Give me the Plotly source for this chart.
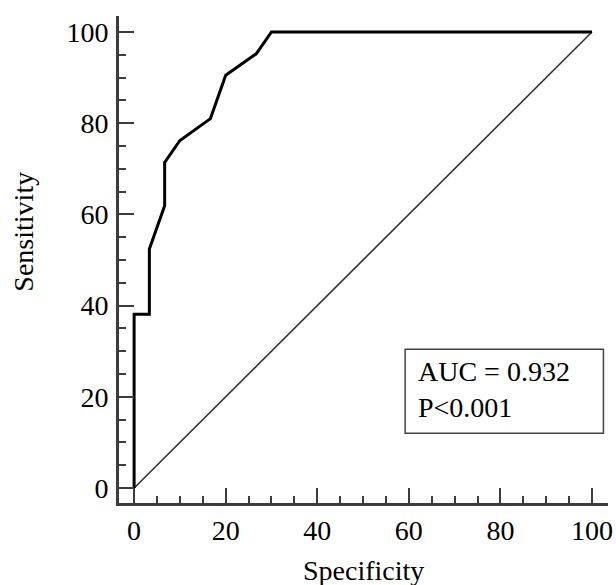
import plotly.graph_objects as go

# ROC curve points (100 - specificity on x as labelled "Specificity", sensitivity on y)
roc_x = [0, 0, 3.33, 3.33, 6.67, 6.67, 10.0, 16.67, 20.0, 26.67, 30.0, 100]
roc_y = [0, 38.1, 38.1, 52.4, 61.9, 71.4, 76.2, 81.0, 90.5, 95.2, 100, 100]
diag_x = [0, 100]
diag_y = [0, 100]
tick_vals = [0, 20, 40, 60, 80, 100]
tick_text = ["0", "20", "40", "60", "80", "100"]
auc_text = "AUC = 0.932"
p_text = "P&lt;0.001"

FONT = "Liberation Serif, Times New Roman, serif"
AX = "#3c3c3c"

fig = go.Figure()
fig.add_trace(go.Scatter(x=diag_x, y=diag_y, mode="lines",
                         line=dict(color="#333333", width=1.6), hoverinfo="skip"))
fig.add_trace(go.Scatter(x=roc_x, y=roc_y, mode="lines",
                         line=dict(color="#000000", width=3), hoverinfo="skip"))

axis_common = dict(
    showgrid=False, zeroline=False, showline=True, linecolor=AX, linewidth=3,
    ticks="inside", ticklen=15, tickwidth=2, tickcolor=AX,
    tickvals=tick_vals, ticktext=tick_text,
    tickfont=dict(family=FONT, size=28, color="#000"),
    minor=dict(dtick=5, tick0=0, ticks="inside", ticklen=7, tickwidth=2, tickcolor=AX),
    range=[-3.3, 103.5], mirror=False, fixedrange=True, automargin=False,
)

fig.update_layout(
    width=616, height=585,
    margin=dict(l=119, r=8, t=16, b=82),
    paper_bgcolor="white", plot_bgcolor="white",
    showlegend=False,
    font=dict(family=FONT, size=28, color="#000"),
    xaxis=dict(**axis_common, ticklabelstandoff=0),
    yaxis=dict(**axis_common, ticklabelstandoff=2),
)

fig.add_shape(type="rect", xref="x", yref="y", x0=59.2, x1=102.5, y0=12.0, y1=30.4,
              line=dict(color="#444444", width=1.5), fillcolor="rgba(0,0,0,0)")
fig.add_annotation(xref="x", yref="y", x=61.6, y=25.5, text=auc_text, showarrow=False,
                   xanchor="left", yanchor="middle", font=dict(family=FONT, size=28, color="#000"))
fig.add_annotation(xref="x", yref="y", x=61.6, y=17.6, text=p_text, showarrow=False,
                   xanchor="left", yanchor="middle", font=dict(family=FONT, size=28, color="#000"))
fig.add_annotation(xref="paper", yref="paper", x=-0.195, y=0.5565, text="Sensitivity",
                   textangle=-90, showarrow=False, xanchor="center", yanchor="middle",
                   font=dict(family=FONT, size=28, color="#000"))
fig.add_annotation(xref="paper", yref="paper", x=0.5, y=-0.103, text="Specificity",
                   showarrow=False, xanchor="center", yanchor="top",
                   font=dict(family=FONT, size=28, color="#000"))

fig.write_html(
    "out.html",
    config={"displayModeBar": False, "staticPlot": True},
    post_script="document.body.style.margin='0';document.body.style.overflow='hidden';",
)
